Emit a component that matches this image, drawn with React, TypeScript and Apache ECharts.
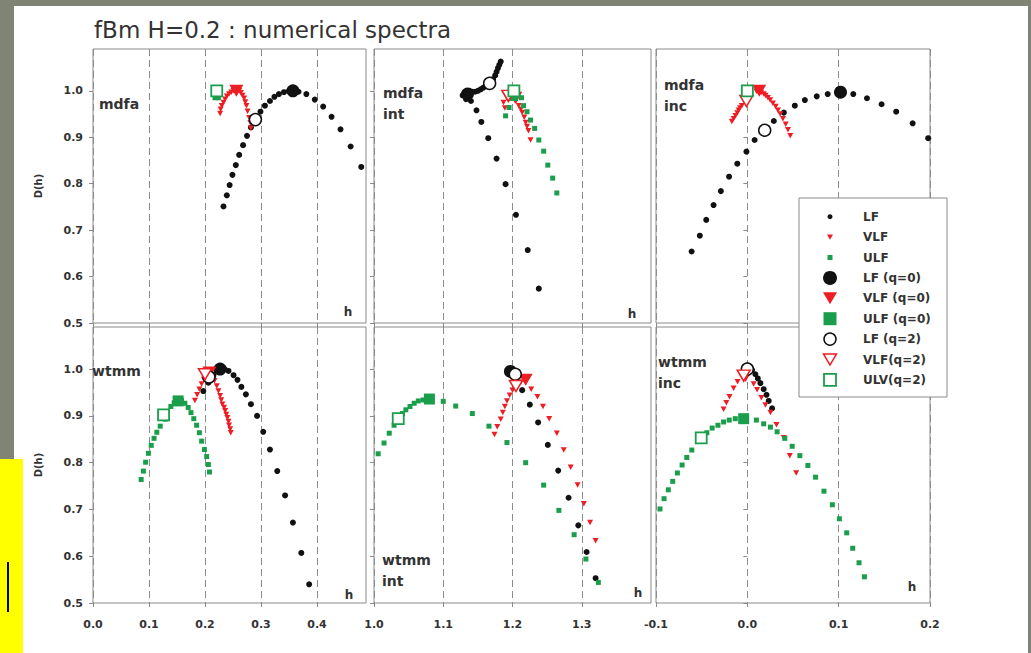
import React, { useEffect, useRef } from "react";
import * as echarts from "echarts";

// ---------------- DATA ----------------
const seriesNames = ["LF", "VLF", "ULF", "LF (q=0)", "VLF (q=0)", "ULF (q=0)", "LF (q=2)", "VLF(q=2)", "ULV(q=2)"];
const panelLabels = [["mdfa"], ["mdfa", "int"], ["mdfa", "inc"], ["wtmm"], ["wtmm", "int"], ["wtmm", "inc"]];
const yTicks = [0.5, 0.6, 0.7, 0.8, 0.9, 1.0];
const xTicksCol = [[0, 0.1, 0.2, 0.3, 0.4], [1.0, 1.1, 1.2, 1.3], [-0.1, 0, 0.1, 0.2]];
const xMinCol = [0, 1.0, -0.1];
const xMaxCol = [0.4875, 1.4, 0.2];

// mdfa
const mdfaLF = [[0.233,0.751],[0.239,0.775],[0.244,0.797],[0.249,0.819],[0.255,0.840],[0.261,0.862],[0.268,0.883],[0.275,0.903],[0.282,0.921],[0.290,0.938],[0.299,0.955],[0.307,0.968],[0.316,0.978],[0.324,0.987],[0.332,0.993],[0.341,0.997],[0.350,1.0],[0.367,0.998],[0.381,0.993],[0.396,0.981],[0.411,0.966],[0.426,0.944],[0.442,0.917],[0.460,0.880],[0.479,0.836]];
const mdfaVLF = [[0.227,0.951],[0.228,0.960],[0.230,0.968],[0.233,0.975],[0.236,0.982],[0.239,0.988],[0.243,0.993],[0.247,0.997],[0.251,1.0],[0.261,1.0],[0.264,0.996],[0.267,0.990],[0.270,0.984],[0.272,0.976],[0.274,0.968],[0.276,0.956],[0.279,0.942],[0.281,0.931],[0.282,0.920]];
const mdfaULF = [[0.218,0.985],[0.224,0.985],[0.221,0.993]];
const mdfaQ0 = [[0.357,1.0],[0.256,1.0],[0.221,1.0]];
const mdfaQ2 = [[0.290,0.938], null, [0.221,1.0]];

// mdfa int
const mdfaIntLF = [[1.128,0.990],[1.131,0.995],[1.133,0.982],[1.134,0.998],[1.138,1.0],[1.140,0.978],[1.142,0.998],[1.146,0.998],[1.150,1.0],[1.154,1.003],[1.158,1.007],[1.162,1.011],[1.172,1.025],[1.175,1.033],[1.177,1.041],[1.179,1.049],[1.181,1.056],[1.183,1.063],[1.148,0.958],[1.155,0.933],[1.165,0.898],[1.177,0.854],[1.190,0.799],[1.205,0.733],[1.222,0.657],[1.238,0.574]];
const mdfaIntVLF = [[1.187,0.975],[1.189,0.963],[1.192,0.985],[1.199,0.985],[1.205,0.978],[1.209,0.968],[1.212,0.960],[1.214,0.953],[1.217,0.943],[1.219,0.932],[1.221,0.923],[1.223,0.914],[1.226,0.894]];
const mdfaIntULF = [[1.190,0.946],[1.195,0.964],[1.208,0.992],[1.213,0.985],[1.216,0.968],[1.221,0.955],[1.226,0.937],[1.232,0.919],[1.238,0.894],[1.245,0.870],[1.251,0.840],[1.258,0.812],[1.264,0.780]];
const mdfaIntQ0 = [[1.135,0.993],[1.204,0.985],[1.200,0.990]];
const mdfaIntQ2 = [[1.167,1.016],[1.194,0.989],[1.202,1.0]];

// mdfa inc
const mdfaIncLF = [[-0.061,0.654],[-0.052,0.688],[-0.045,0.722],[-0.037,0.754],[-0.029,0.784],[-0.020,0.815],[-0.011,0.843],[-0.001,0.869],[0.008,0.894],[0.019,0.915],[0.029,0.935],[0.040,0.953],[0.052,0.968],[0.063,0.980],[0.076,0.988],[0.088,0.993],[0.102,0.997],[0.116,0.993],[0.131,0.984],[0.147,0.971],[0.163,0.955],[0.181,0.930],[0.198,0.898]];
const mdfaIncVLF = [[-0.017,0.934],[-0.015,0.940],[-0.013,0.946],[-0.011,0.952],[-0.0095,0.958],[-0.008,0.963],[-0.006,0.968],[-0.003,0.977],[0.010,0.999],[0.015,0.996],[0.018,0.993],[0.020,0.990],[0.0225,0.985],[0.025,0.980],[0.028,0.973],[0.031,0.966],[0.0335,0.958],[0.036,0.950],[0.039,0.940],[0.042,0.928],[0.0445,0.916],[0.047,0.903]];
const mdfaIncULF = [[-0.002,0.995],[0.003,0.995]];
const mdfaIncQ0 = [[0.102,0.997],[0.013,1.0],[0.0,1.0]];
const mdfaIncQ2 = [[0.019,0.915],[-0.001,0.978],[0.0,1.0]];

// wtmm
const wtmmLF = [[0.197,0.953],[0.206,0.971],[0.215,0.986],[0.221,0.995],[0.235,1.0],[0.242,0.996],[0.251,0.987],[0.258,0.977],[0.265,0.962],[0.273,0.946],[0.282,0.925],[0.293,0.900],[0.304,0.866],[0.316,0.828],[0.329,0.782],[0.343,0.730],[0.357,0.672],[0.372,0.607],[0.386,0.540]];
const wtmmVLF = [[0.182,0.933],[0.186,0.945],[0.190,0.957],[0.194,0.968],[0.198,0.978],[0.213,0.985],[0.217,0.975],[0.221,0.964],[0.224,0.953],[0.227,0.943],[0.229,0.934],[0.231,0.925],[0.234,0.918],[0.236,0.911],[0.238,0.903],[0.240,0.896],[0.242,0.888],[0.243,0.880],[0.245,0.872],[0.246,0.864]];
const wtmmULF = [[0.086,0.764],[0.090,0.782],[0.094,0.801],[0.099,0.820],[0.104,0.837],[0.109,0.852],[0.114,0.865],[0.120,0.878],[0.129,0.893],[0.133,0.907],[0.139,0.920],[0.145,0.928],[0.158,0.933],[0.164,0.927],[0.170,0.918],[0.175,0.907],[0.180,0.894],[0.185,0.880],[0.190,0.864],[0.194,0.846],[0.199,0.828],[0.203,0.813],[0.206,0.796],[0.208,0.780]];
const wtmmQ0 = [[0.227,1.0],[0.208,0.993],[0.152,0.932]];
const wtmmQ2 = [[0.207,0.983],[0.200,0.989],[0.126,0.902]];

// wtmm int
const wtmmIntLF = [[1.214,0.955],[1.225,0.924],[1.237,0.886],[1.251,0.838],[1.266,0.783],[1.281,0.725],[1.295,0.666],[1.307,0.609],[1.320,0.553]];
const wtmmIntVLF = [[1.174,0.860],[1.178,0.877],[1.183,0.893],[1.186,0.907],[1.189,0.920],[1.192,0.932],[1.196,0.944],[1.200,0.955],[1.212,0.972],[1.227,0.957],[1.236,0.941],[1.244,0.920],[1.253,0.894],[1.264,0.863],[1.274,0.827],[1.284,0.790],[1.294,0.752],[1.303,0.712],[1.312,0.672],[1.320,0.633]];
const wtmmIntULF = [[1.006,0.819],[1.0145,0.842],[1.022,0.863],[1.029,0.880],[1.041,0.905],[1.046,0.913],[1.052,0.920],[1.058,0.927],[1.064,0.932],[1.071,0.934],[1.100,0.931],[1.118,0.921],[1.142,0.905],[1.166,0.878],[1.192,0.843],[1.219,0.800],[1.245,0.752],[1.267,0.698],[1.289,0.646],[1.306,0.594],[1.324,0.544]];
const wtmmIntQ0 = [[1.197,0.995],[1.219,0.977],[1.080,0.936]];
const wtmmIntQ2 = [[1.204,0.989],[1.205,0.964],[1.035,0.894]];

// wtmm inc
const wtmmIncLF = [[0.0052,0.998],[0.0088,0.989],[0.0115,0.980],[0.0143,0.970],[0.0179,0.957],[0.021,0.945],[0.0234,0.932],[0.0271,0.916]];
const wtmmIncVLF = [[-0.026,0.914],[-0.023,0.928],[-0.0195,0.941],[-0.015,0.959],[-0.0107,0.973],[0.0069,0.968],[0.0107,0.956],[0.0154,0.939],[0.0198,0.923],[0.0253,0.907],[0.0319,0.881],[0.0399,0.853],[0.0465,0.815],[0.0535,0.778]];
const wtmmIncULF = [[-0.0956,0.701],[-0.0912,0.723],[-0.0865,0.742],[-0.0817,0.760],[-0.0766,0.778],[-0.0714,0.795],[-0.0663,0.811],[-0.0608,0.827],[-0.0443,0.864],[-0.0385,0.874],[-0.0322,0.880],[-0.026,0.887],[-0.0198,0.891],[-0.0132,0.894],[0.0099,0.891],[0.0179,0.883],[0.0253,0.876],[0.0326,0.866],[0.041,0.852],[0.0491,0.835],[0.0575,0.815],[0.0663,0.794],[0.0747,0.769],[0.0839,0.739],[0.0931,0.710],[0.1008,0.680],[0.1088,0.650],[0.1154,0.617],[0.1223,0.586],[0.1282,0.556]];
const wtmmIncQ0 = [[0.0,1.0],[-0.002,0.985],[-0.004,0.894]];
const wtmmIncQ2 = [[0.0,1.0],[-0.004,0.986],[-0.0505,0.853]];

const panelData = [
  [mdfaLF, mdfaVLF, mdfaULF, mdfaQ0, mdfaQ2],
  [mdfaIntLF, mdfaIntVLF, mdfaIntULF, mdfaIntQ0, mdfaIntQ2],
  [mdfaIncLF, mdfaIncVLF, mdfaIncULF, mdfaIncQ0, mdfaIncQ2],
  [wtmmLF, wtmmVLF, wtmmULF, wtmmQ0, wtmmQ2],
  [wtmmIntLF, wtmmIntVLF, wtmmIntULF, wtmmIntQ0, wtmmIntQ2],
  [wtmmIncLF, wtmmIncVLF, wtmmIncULF, wtmmIncQ0, wtmmIncQ2],
];

// ---------------- STYLE ----------------
const FONT = '"DejaVu Sans", Verdana, sans-serif';
const TXT = "#333333";
const BLACK = "#111111";
const RED = "#ee1d23";
const GREEN = "#1b9e4b";
const FRAME = "#8a8a8a";
const TRI = "path://M0,0L10,0L5,8.66Z";

const colLeft = [93, 374, 656];
const colWidth = [273, 277, 274];
const rowTop = [49, 327];
const rowHeight = [274, 276];

type Def = { kind: string; color: string; fill: string; size: number; w?: number; h?: number; lw: number };
const defs: Def[] = [
  { kind: "circle", color: BLACK, fill: BLACK, size: 6, lw: 0 },
  { kind: "tri", color: RED, fill: RED, size: 6, w: 6, h: 5.5, lw: 0 },
  { kind: "rect", color: GREEN, fill: GREEN, size: 5, lw: 0 },
  { kind: "circle", color: BLACK, fill: BLACK, size: 13, lw: 0 },
  { kind: "tri", color: RED, fill: RED, size: 14, w: 14, h: 12, lw: 0 },
  { kind: "rect", color: GREEN, fill: GREEN, size: 11, lw: 0 },
  { kind: "circle", color: BLACK, fill: "#ffffff", size: 12, lw: 1.5 },
  { kind: "tri", color: RED, fill: "#ffffff", size: 13, w: 13, h: 11, lw: 1.5 },
  { kind: "rect", color: GREEN, fill: "#ffffff", size: 11, lw: 1.8 },
];
const legendSizes = [5, 6, 5, 14, 14, 13, 12, 13, 12];

function buildOption() {
  const grid: any[] = [];
  const xAxis: any[] = [];
  const yAxis: any[] = [];
  const series: any[] = [];
  const graphic: any[] = [];
  const fmt = (v: number) => (Math.abs(v) < 1e-9 ? 0 : v).toFixed(1);

  for (let p = 0; p < 6; p++) {
    const r = Math.floor(p / 3);
    const c = p % 3;
    grid.push({
      left: colLeft[c], top: rowTop[r], width: colWidth[c], height: rowHeight[r],
      show: true, borderColor: FRAME, borderWidth: 1, backgroundColor: "transparent",
    });
    xAxis.push({
      type: "value", gridIndex: p, min: xMinCol[c], max: xMaxCol[c], interval: 0.1,
      axisLine: { show: false },
      axisTick: { show: true, length: 4, lineStyle: { color: FRAME }, customValues: xTicksCol[c] },
      axisLabel: {
        show: r === 1, customValues: xTicksCol[c], formatter: fmt, margin: 16,
        fontSize: 11, fontWeight: "bold", color: TXT, fontFamily: FONT,
      },
      splitLine: { show: true, lineStyle: { color: "#8c8c8c", type: [7, 4], width: 1 } },
    });
    yAxis.push({
      type: "value", gridIndex: p, min: 0.5, max: 1.09, interval: 0.1,
      axisLine: { show: false },
      axisTick: { show: true, length: 4, lineStyle: { color: FRAME }, customValues: yTicks },
      axisLabel: {
        show: c === 0, customValues: yTicks, formatter: fmt, margin: 10,
        fontSize: 11, fontWeight: "bold", color: TXT, fontFamily: FONT,
      },
      splitLine: { show: false },
      name: c === 0 ? "D(h)" : "",
      nameLocation: "middle", nameGap: 50, nameRotate: 90,
      nameTextStyle: { fontSize: 10, fontWeight: "bold", color: TXT, fontFamily: FONT },
    });

    // panel label
    const labs = panelLabels[p];
    const lx = [99, 383, 664, 92, 382, 658][p];
    const ly = [104, 93, 85, 371, 560, 362][p];
    labs.forEach((t, i) => {
      graphic.push({
        type: "text", x: lx, y: ly + i * 21, z: 10,
        style: { text: t, fill: TXT, font: `bold 14px ${FONT}`, verticalAlign: "middle", align: "left" },
      });
    });
    // "h" label (the top-right one is hidden under the legend in the reference)
    if (p !== 2) {
      const hx = [348, 632, 912, 349, 638, 912][p];
      const hy = [312, 314, 312, 595, 593, 587][p];
      graphic.push({
        type: "text", x: hx, y: hy, z: 10,
        style: { text: "h", fill: TXT, font: `bold 12px ${FONT}`, verticalAlign: "middle", align: "center" },
      });
    }
  }

  let z = 2;
  defs.forEach((d, k) => {
    for (let p = 0; p < 6; p++) {
      const pd = panelData[p];
      let data: any[];
      if (k < 3) data = pd[k] as number[][];
      else if (k < 6) data = [(pd[3] as any[])[k - 3]].filter(Boolean);
      else data = [(pd[4] as any[])[k - 6]].filter(Boolean);
      series.push({
        type: "scatter", name: seriesNames[k], xAxisIndex: p, yAxisIndex: p, data,
        symbol: d.kind === "circle" ? "circle" : d.kind === "rect" ? "rect" : TRI,
        symbolSize: d.kind === "tri" ? [d.w, d.h] : d.size,
        itemStyle: { color: d.fill, borderColor: d.color, borderWidth: d.lw, opacity: 1 },
        z: z, silent: true,
      });
    }
    z += 1;
  });

  // legend box (graphic)
  graphic.push({
    type: "rect", z: 100, shape: { x: 799, y: 198, width: 148, height: 199 },
    style: { fill: "#ffffff", stroke: FRAME, lineWidth: 1 },
  });
  defs.forEach((d, i) => {
    const yc = 216.7 + i * 20.4;
    const s = legendSizes[i];
    const st = { fill: d.fill, stroke: d.lw ? d.color : null, lineWidth: d.lw || 0 };
    if (d.kind === "circle") {
      graphic.push({ type: "circle", z: 101, shape: { cx: 830, cy: yc, r: s / 2 }, style: st });
    } else if (d.kind === "rect") {
      graphic.push({ type: "rect", z: 101, shape: { x: 830 - s / 2, y: yc - s / 2, width: s, height: s }, style: st });
    } else {
      const h = s * 0.86;
      graphic.push({
        type: "polygon", z: 101,
        shape: { points: [[830 - s / 2, yc - h / 2], [830 + s / 2, yc - h / 2], [830, yc + h / 2]] }, style: st,
      });
    }
    graphic.push({
      type: "text", x: 863, y: yc, z: 101,
      style: { text: seriesNames[i], fill: TXT, font: `bold 12px ${FONT}`, verticalAlign: "middle", align: "left" },
    });
  });

  return {
    animation: false,
    backgroundColor: "transparent",
    title: {
      text: "fBm H=0.2 : numerical spectra", left: 94, top: 18, padding: 0,
      textStyle: { fontSize: 23, fontWeight: "normal", color: TXT, fontFamily: FONT },
    },
    grid, xAxis, yAxis, series, graphic,
  };
}

export default function App() {
  const ref = useRef<HTMLDivElement>(null);
  useEffect(() => {
    const chart = echarts.init(ref.current as HTMLDivElement, null, { renderer: "svg" });
    chart.setOption(buildOption() as any);
    return () => chart.dispose();
  }, []);
  return (
    <div style={{ position: "fixed", left: 0, top: 0, width: 1031, height: 653, background: "#7f8474", overflow: "hidden" }}>
      <div style={{ position: "absolute", left: 14, top: 6, width: 1014, height: 647, background: "#ffffff" }} />
      <div ref={ref} style={{ position: "absolute", left: 0, top: 0, width: 1031, height: 653 }} />
      <div style={{ position: "absolute", left: 0, top: 459, width: 23, height: 194, background: "#ffff00" }} />
      <div style={{ position: "absolute", left: 7, top: 562, width: 2, height: 50, background: "#000000" }} />
    </div>
  );
}
